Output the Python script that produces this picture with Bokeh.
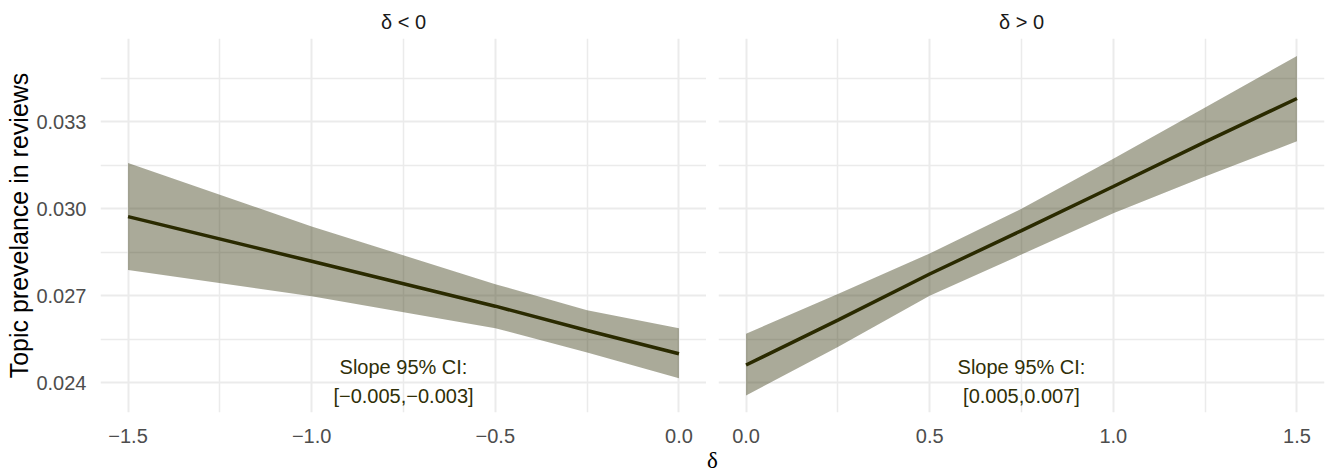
from bokeh.plotting import figure
from bokeh.layouts import row, column
from bokeh.models import Range1d, FixedTicker, CustomJSTickFormatter
from bokeh.core.properties import value
from bokeh.embed import file_html
from bokeh.resources import INLINE

# ---- data ----
neg_x = [-1.5, -1.0, -0.5, -0.25, 0.0]
neg_fit = [0.02973, 0.02819, 0.02664, 0.02580, 0.02500]
neg_upper = [0.03158, 0.02939, 0.02740, 0.02650, 0.02588]
neg_lower = [0.02789, 0.02698, 0.02588, 0.02504, 0.02415]

pos_x = [0.0, 0.25, 0.5, 0.75, 1.0, 1.25, 1.5]
pos_fit = [0.02461, 0.02616, 0.02775, 0.02925, 0.03077, 0.03231, 0.03381]
pos_upper = [0.02569, 0.02706, 0.02846, 0.03000, 0.03173, 0.03350, 0.03528]
pos_lower = [0.02356, 0.02523, 0.02700, 0.02842, 0.02985, 0.03112, 0.03233]

panel_titles = ["\u03b4 < 0", "\u03b4 > 0"]
ci_header = "Slope 95% CI:"
ci_texts = ["[\u22120.005,\u22120.003]", "[0.005,0.007]"]
ci_x = [-0.75, 0.75]
ci_y = [0.02454, 0.02354]
x_title = ["\u03b4"]

y_ticks = [0.024, 0.027, 0.030, 0.033]
y_minor = [0.0255, 0.0285, 0.0315, 0.0345]
neg_ticks = [-1.5, -1.0, -0.5, 0.0]
neg_minor = [-1.25, -0.75, -0.25]
pos_ticks = [0.0, 0.5, 1.0, 1.5]
pos_minor = [0.25, 0.75, 1.25]

FONT = "Liberation Sans"
LINE_COL = "#2a2a00"
TEXT_COL = "#2f2f08"
GRID = "#ebebeb"
MAIN_H = 446
STRIP_H = 474 - MAIN_H

y_range = Range1d(0.02297, 0.03588)

xfmt = CustomJSTickFormatter(code="""
return (tick < -1e-9 ? "\\u2212" : "") + Math.abs(tick).toFixed(1);
""")


def make_panel(title, xs, fit, lo, hi, xr, ticks, minor, ci_text, cx, width,
               left_border, right_border, show_y):
    p = figure(width=width, height=MAIN_H, x_range=xr, y_range=y_range,
               output_backend="svg", toolbar_location=None,
               min_border_left=left_border, min_border_right=right_border,
               min_border_top=38, min_border_bottom=34)
    p.outline_line_color = None
    p.background_fill_color = "white"
    p.border_fill_color = "white"

    p.title.text = title
    p.title.align = "center"
    p.title.text_font = FONT
    p.title.text_font_size = "20px"
    p.title.text_font_style = "normal"
    p.title.text_color = "#1a1a1a"
    p.title.standoff = 12

    p.varea(x=xs, y1=lo, y2=hi, fill_color="#2b2b00", fill_alpha=0.4)
    p.line(x=xs, y=fit, line_color=LINE_COL, line_width=3.5)

    p.text(x=[cx, cx], y=ci_y, text=[ci_header, ci_text],
           text_font=value(FONT), text_font_size="20px",
           text_color=TEXT_COL, text_align="center", text_baseline="middle")

    # x axis
    p.xaxis.ticker = FixedTicker(ticks=ticks, minor_ticks=minor)
    p.xaxis.formatter = xfmt
    p.xaxis.major_label_text_font = FONT
    p.xaxis.major_label_text_font_size = "20px"
    p.xaxis.major_label_text_color = "#4d4d4d"
    p.xaxis.major_label_standoff = 10
    p.xaxis.axis_line_color = None
    p.xaxis.major_tick_line_color = None
    p.xaxis.minor_tick_line_color = None

    # y axis
    p.yaxis.ticker = FixedTicker(ticks=y_ticks, minor_ticks=y_minor)
    p.yaxis.axis_line_color = None
    p.yaxis.major_tick_line_color = None
    p.yaxis.minor_tick_line_color = None
    if show_y:
        p.yaxis.formatter = CustomJSTickFormatter(code="return tick.toFixed(3);")
        p.yaxis.major_label_text_font = FONT
        p.yaxis.major_label_text_font_size = "20px"
        p.yaxis.major_label_text_color = "#4d4d4d"
        p.yaxis.major_label_standoff = 8
        p.yaxis.axis_label = "Topic prevelance in reviews"
        p.yaxis.axis_label_text_font = FONT
        p.yaxis.axis_label_text_font_size = "25px"
        p.yaxis.axis_label_text_font_style = "normal"
        p.yaxis.axis_label_text_color = "black"
        p.yaxis.axis_label_standoff = 0
    else:
        p.yaxis.visible = False

    for g in (p.xgrid, p.ygrid):
        g.grid_line_color = GRID
        g.grid_line_width = 2
        g.minor_grid_line_color = GRID
        g.minor_grid_line_width = 1.5
    p.xgrid.ticker = FixedTicker(ticks=ticks, minor_ticks=minor)
    p.ygrid.ticker = FixedTicker(ticks=y_ticks, minor_ticks=y_minor)
    return p


left = make_panel(panel_titles[0], neg_x, neg_fit, neg_lower, neg_upper,
                  Range1d(-1.575, 0.075), neg_ticks, neg_minor, ci_texts[0], ci_x[0],
                  706, 100, 0, True)
right = make_panel(panel_titles[1], pos_x, pos_fit, pos_lower, pos_upper,
                   Range1d(-0.075, 1.575), pos_ticks, pos_minor, ci_texts[1], ci_x[1],
                   620, 12, 2, False)

# strip below holding the shared x-axis title
strip = figure(width=1326, height=STRIP_H, x_range=Range1d(0, 1326),
               y_range=Range1d(0, 1), output_backend="svg", toolbar_location=None,
               min_border=0)
strip.axis.visible = False
strip.grid.visible = False
strip.outline_line_color = None
strip.text(x=[712], y=[0.5], text=x_title, text_font=value("Liberation Serif"),
           text_font_size="23px", text_color="black", text_align="center",
           text_baseline="middle")

layout = column(row(left, right, spacing=0), strip, spacing=0)
open("out.html", "w").write(file_html(layout, INLINE))
